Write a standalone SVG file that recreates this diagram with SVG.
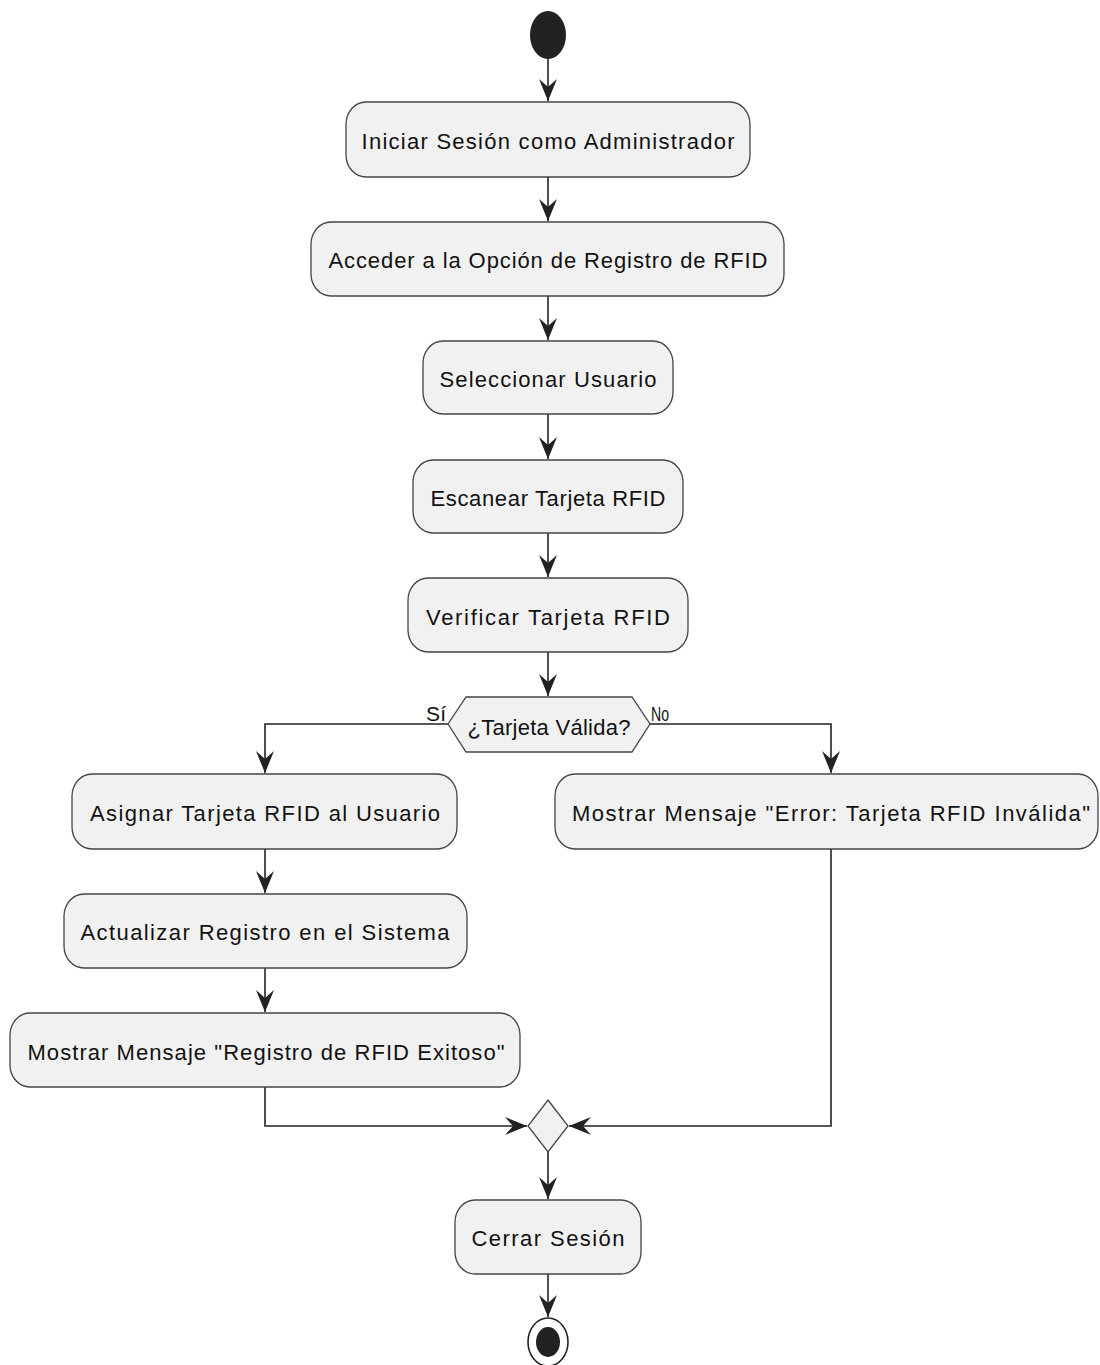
<svg xmlns="http://www.w3.org/2000/svg" width="1100" height="1365" viewBox="0 0 1100 1365">
<defs>
<style>
.box{fill:#F1F1F1;stroke:#444;stroke-width:1.3}
.t{font-family:"Liberation Sans",Arial,sans-serif;font-size:22px;fill:#111;text-anchor:middle}
.lbl{font-family:"Liberation Sans",Arial,sans-serif;font-size:21px;fill:#111}
.ln{fill:none;stroke:#222;stroke-width:1.6}
</style>
<marker id="arr" markerUnits="userSpaceOnUse" markerWidth="24" markerHeight="24" viewBox="-22 -11 24 22" refX="0" refY="0" orient="auto">
<path d="M0,0 L-22,-9 L-14,0 L-22,9 Z" fill="#222"/>
</marker>
</defs>
<rect width="1100" height="1365" fill="#fff"/>
<g id="connectors">
<line class="ln" x1="548" y1="58" x2="548" y2="101" marker-end="url(#arr)"/>
<line class="ln" x1="548" y1="177" x2="548" y2="221" marker-end="url(#arr)"/>
<line class="ln" x1="548" y1="296" x2="548" y2="340" marker-end="url(#arr)"/>
<line class="ln" x1="548" y1="414" x2="548" y2="459" marker-end="url(#arr)"/>
<line class="ln" x1="548" y1="533" x2="548" y2="577" marker-end="url(#arr)"/>
<line class="ln" x1="548" y1="652" x2="548" y2="696" marker-end="url(#arr)"/>
<polyline class="ln" points="448,724 265,724 265,773" marker-end="url(#arr)"/>
<polyline class="ln" points="650,724 831,724 831,773" marker-end="url(#arr)"/>
<line class="ln" x1="265" y1="849" x2="265" y2="893" marker-end="url(#arr)"/>
<line class="ln" x1="265" y1="968" x2="265" y2="1012" marker-end="url(#arr)"/>
<polyline class="ln" points="265,1087 265,1126 527,1126" marker-end="url(#arr)"/>
<polyline class="ln" points="831,849 831,1126 569,1126" marker-end="url(#arr)"/>
<line class="ln" x1="548" y1="1152" x2="548" y2="1199" marker-end="url(#arr)"/>
<line class="ln" x1="548" y1="1274" x2="548" y2="1317" marker-end="url(#arr)"/>
<text class="lbl" x="426" y="721" textLength="20" lengthAdjust="spacing">Sí</text>
<text class="lbl" x="651" y="721" textLength="18" lengthAdjust="spacingAndGlyphs">No</text>
</g>
<g id="start"><ellipse cx="548" cy="35" rx="18" ry="24" fill="#222"/></g>
<g id="n1"><rect class="box" x="346" y="102" width="404" height="75" rx="20" ry="22"/><text class="t" x="548" y="149" textLength="373" lengthAdjust="spacing">Iniciar Sesión como Administrador</text></g>
<g id="n2"><rect class="box" x="311" y="222" width="473" height="74" rx="20" ry="22"/><text class="t" x="548" y="268" textLength="439" lengthAdjust="spacing">Acceder a la Opción de Registro de RFID</text></g>
<g id="n3"><rect class="box" x="423" y="341" width="250" height="73" rx="20" ry="22"/><text class="t" x="548" y="387" textLength="217" lengthAdjust="spacing">Seleccionar Usuario</text></g>
<g id="n4"><rect class="box" x="413" y="460" width="270" height="73" rx="20" ry="22"/><text class="t" x="548" y="506" textLength="235" lengthAdjust="spacing">Escanear Tarjeta RFID</text></g>
<g id="n5"><rect class="box" x="408" y="578" width="280" height="74" rx="20" ry="22"/><text class="t" x="548" y="625" textLength="244" lengthAdjust="spacing">Verificar Tarjeta RFID</text></g>
<g id="decision"><polygon class="box" points="448,724 466,697 632,697 650,724 632,752 466,752"/><text class="t" x="549" y="735" textLength="163" lengthAdjust="spacing">¿Tarjeta Válida?</text></g>
<g id="n6"><rect class="box" x="72" y="774" width="385" height="75" rx="20" ry="22"/><text class="t" x="265" y="821" textLength="350" lengthAdjust="spacing">Asignar Tarjeta RFID al Usuario</text></g>
<g id="n7"><rect class="box" x="555" y="774" width="543" height="75" rx="20" ry="22"/><text class="t" x="831" y="821" textLength="518" lengthAdjust="spacing">Mostrar Mensaje "Error: Tarjeta RFID Inválida"</text></g>
<g id="n8"><rect class="box" x="64" y="894" width="403" height="74" rx="20" ry="22"/><text class="t" x="265" y="940" textLength="369" lengthAdjust="spacing">Actualizar Registro en el Sistema</text></g>
<g id="n9"><rect class="box" x="10" y="1013" width="510" height="74" rx="20" ry="22"/><text class="t" x="266" y="1060" textLength="477" lengthAdjust="spacing">Mostrar Mensaje "Registro de RFID Exitoso"</text></g>
<g id="merge"><polygon class="box" points="548,1100 568,1126 548,1152 528,1126"/></g>
<g id="n10"><rect class="box" x="455" y="1200" width="186" height="74" rx="20" ry="22"/><text class="t" x="548" y="1246" textLength="153" lengthAdjust="spacing">Cerrar Sesión</text></g>
<g id="end"><ellipse cx="548" cy="1342" rx="20" ry="24" fill="#fff" stroke="#222" stroke-width="1.6"/><ellipse cx="548" cy="1342" rx="12" ry="15" fill="#222"/></g>
</svg>
